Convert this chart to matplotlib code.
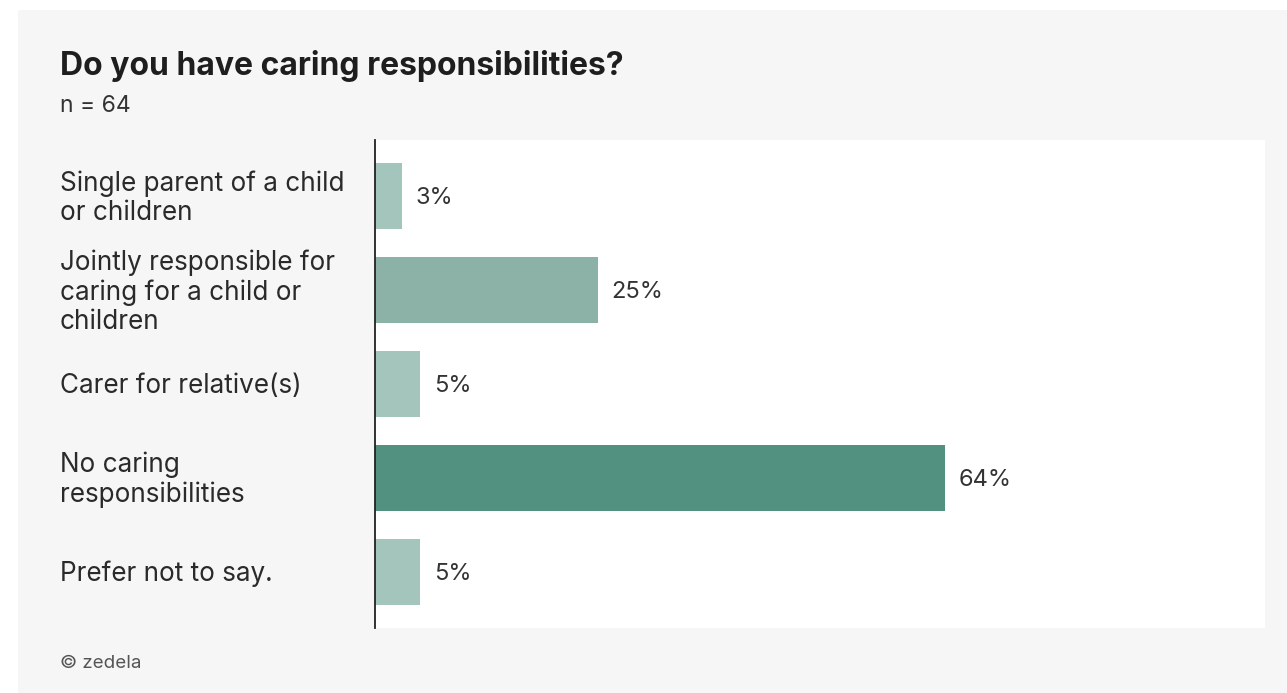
import matplotlib.pyplot as plt
import matplotlib.transforms as transforms
from matplotlib.patches import Rectangle

plt.rcParams["font.family"] = ["Inter", "DejaVu Sans"]

# Survey answers, top to bottom
categories = [
    "Single parent of a child\nor children",
    "Jointly responsible for\ncaring for a child or\nchildren",
    "Carer for relative(s)",
    "No caring\nresponsibilities",
    "Prefer not to say.",
]
shares = [3, 25, 5, 64, 5]
bar_colors = ["#a4c5bc", "#8cb2a7", "#a4c5bc", "#52917f", "#a4c5bc"]

W, H = 1287, 693
fig = plt.figure(figsize=(W / 100, H / 100), dpi=100, facecolor="white")

# grey card behind everything
fig.patches.append(Rectangle((18 / W, 0), 1 - 18 / W, (H - 10) / H,
                             transform=fig.transFigure, facecolor="#f6f6f6",
                             edgecolor="none", zorder=-5))

ax = fig.add_axes([375 / W, (H - 628) / H, 890 / W, 488 / H])
ax.set_zorder(2)
ax.set_facecolor("white")

y = list(range(len(categories)))
ax.barh(y, shares, height=0.70, color=bar_colors, zorder=2)
ax.set_xlim(0, 100)
ax.set_ylim(len(categories) - 0.4, -0.6)

for s in ["top", "right", "bottom"]:
    ax.spines[s].set_visible(False)
ax.spines["left"].set_color("#222222")
ax.spines["left"].set_linewidth(1.3)
ax.set_xticks([])
ax.set_yticks([])

# nudge text a few pixels down so it sits on the bar centre
val_tr = transforms.offset_copy(ax.transData, fig=fig, y=-2, units="dots")
for i, v in enumerate(shares):
    ax.text(v + 1.6, i, f"{v}%", va="center", ha="left", transform=val_tr,
            fontsize=17, color="#333333")

# category labels sit at the card's left margin
lab_tr = transforms.offset_copy(
    transforms.blended_transform_factory(fig.transFigure, ax.transData),
    fig=fig, y=-2, units="dots")
for i, c in enumerate(categories):
    ax.text(60 / W, i, c, transform=lab_tr, va="center", ha="left",
            fontsize=18.8, color="#2a2a2a", linespacing=1.16, clip_on=False)

fig.text(60 / W, 1 - 66 / H, "Do you have caring responsibilities?",
         fontsize=23, fontweight="bold", color="#1e1e1e", va="center")
fig.text(60 / W, 1 - 106 / H, "n = 64", fontsize=16.5, color="#333333",
         va="center")
fig.text(60 / W, 1 - 664 / H, "\u00a9 zedela", fontsize=13.5,
         color="#555555", va="center")

fig.savefig("out.png", dpi=100, facecolor=fig.get_facecolor())
